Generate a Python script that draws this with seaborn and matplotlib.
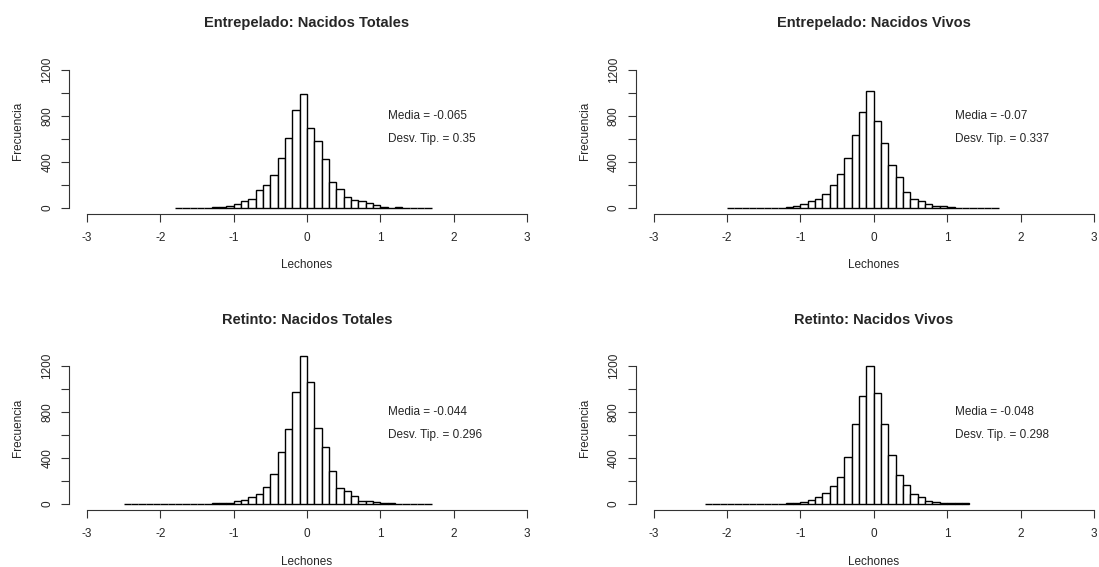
import numpy as np
import pandas as pd
import matplotlib
matplotlib.use("Agg")
import matplotlib.pyplot as plt
import seaborn as sns

# ---- data (bin width 0.1) ----
titles = ["Entrepelado: Nacidos Totales", "Entrepelado: Nacidos Vivos",
          "Retinto: Nacidos Totales", "Retinto: Nacidos Vivos"]
bin_start = [-1.8, -2.0, -2.5, -2.3]
ent_totales = [1, 0, 0, 0, 1,
               5, 6, 15, 32, 58, 78, 154, 200, 290, 432, 611, 850, 990,
               698, 580, 423, 223, 162, 96, 67, 58, 41, 23, 6, 3, 10,
               0, 0, 0, 1]
ent_vivos = [1, 0, 0, 0, 0, 0, 1, 2,
             5, 15, 32, 64, 75, 119, 200, 293, 432, 632, 832, 1015,
             759, 562, 374, 272, 142, 75, 58, 38, 20, 20, 12,
             3, 0, 0, 0, 0, 1]
ret_totales = [1, 0, 0, 0, 0, 1, 0, 0, 1, 0, 1, 2,
               5, 5, 6, 23, 32, 58, 87, 148, 258, 455, 649, 971, 1287,
               1058, 658, 498, 290, 136, 113, 70, 23, 23, 14, 6, 6,
               2, 0, 0, 0, 1]
ret_vivos = [0, 0, 0, 4, 0, 0, 4, 0, 1,
             4, 4, 5, 6,
             14, 32, 58, 96, 154, 235, 409, 698, 936, 1197,
             965, 696, 423, 249, 168, 87, 58, 23, 14, 12, 12, 6, 6]
series = [ent_totales, ent_vivos, ret_totales, ret_vivos]
medias = ["-0.065", "-0.07", "-0.044", "-0.048"]
desv = ["0.35", "0.337", "0.296", "0.298"]
x_ticks = [-3, -2, -1, 0, 1, 2, 3]
y_ticks = [0, 200, 400, 600, 800, 1000, 1200]
y_ticklabels = ["0", "", "400", "", "800", "", "1200"]

sns.set_style("ticks")
plt.rcParams['font.family'] = ['Liberation Sans', 'DejaVu Sans']

W, H = 1099, 567
fig = plt.figure(figsize=(W / 100, H / 100), dpi=100)

# pixel geometry: (x of -3, x of 3, y of 0)
geom = [(87, 527, 208), (653.5, 1094, 208), (87, 527, 504), (653.5, 1094, 504)]
ppc = 0.115  # px per count
XL = (-3.24, 3.24)
YL = (-48, 1360)

for i in range(4):
    xm3, xp3, y0 = geom[i]
    ppu = (xp3 - xm3) / 6.0
    left = xm3 - 0.24 * ppu
    right = xp3 + 0.24 * ppu
    top = y0 - YL[1] * ppc
    bottom = y0 - YL[0] * ppc
    ax = fig.add_axes([left / W, 1 - bottom / H, (right - left) / W, (bottom - top) / H])

    counts = np.array(series[i], dtype=float)
    n = len(counts)
    edges = np.round(bin_start[i] + 0.1 * np.arange(n + 1), 2)
    centers = (edges[:-1] + edges[1:]) / 2
    df = pd.DataFrame({"x": centers, "w": counts})
    sns.histplot(data=df, x="x", weights="w", bins=list(edges), ax=ax,
                 color="white", edgecolor="black", linewidth=1.0, alpha=1.0)

    ax.set_xlim(*XL)
    ax.set_ylim(*YL)
    ax.set_xticks(x_ticks)
    ax.set_xticklabels([str(t) for t in x_ticks], fontsize=8.5)
    ax.set_yticks(y_ticks)
    ax.set_yticklabels(y_ticklabels, fontsize=8.5, rotation=90, va="center")
    ax.tick_params(axis="both", length=5.5, width=0.8, color="#333333", pad=6)
    ax.tick_params(axis="x", pad=8)
    for s in ["top", "right"]:
        ax.spines[s].set_visible(False)
    ax.spines["left"].set_bounds(0, 1200)
    ax.spines["bottom"].set_bounds(-3, 3)
    for s in ["left", "bottom"]:
        ax.spines[s].set_linewidth(0.8)
        ax.spines[s].set_color("#333333")
    ax.set_xlabel("")
    ax.set_ylabel("")
    ax.set_facecolor("none")
    ax.patch.set_visible(False)

    ax.text(1.1, 800, "Media = " + medias[i], fontsize=8.5, ha="left", va="center")
    ax.text(1.1, 600, "Desv. Tip. = " + desv[i], fontsize=8.5, ha="left", va="center")

    xc = xm3 + 3 * ppu
    ty = 23 if i < 2 else 320
    fig.text(xc / W, 1 - ty / H, titles[i], fontsize=10.5, fontweight="bold",
             ha="center", va="center")
    ly = 265 if i < 2 else 562
    fig.text(xc / W, 1 - ly / H, "Lechones", fontsize=8.5, ha="center", va="center")
    fy = 131 if i < 2 else 428
    fx = 18 if i % 2 == 0 else 585
    fig.text(fx / W, 1 - fy / H, "Frecuencia", fontsize=8.5, rotation=90,
             ha="center", va="center")

fig.savefig("out.png", dpi=100, facecolor="white")
